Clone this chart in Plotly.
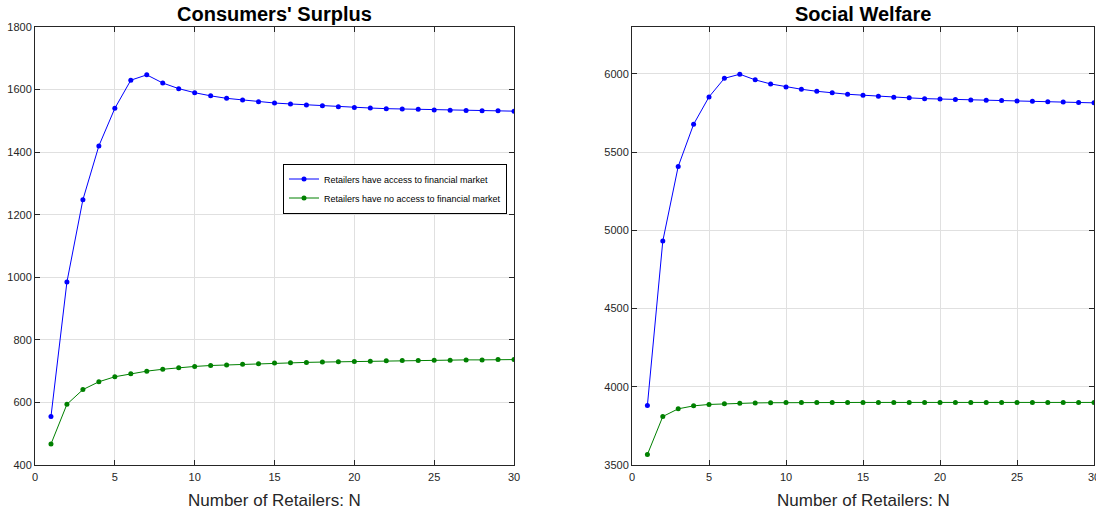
import plotly.graph_objects as go

N = list(range(1, 31))

cs_access = [555, 985, 1248, 1420, 1540, 1630, 1647, 1621, 1603, 1590, 1580, 1572, 1567, 1561, 1557,
             1554, 1551, 1548, 1545, 1543, 1541, 1539, 1538, 1537, 1535, 1534, 1533, 1532, 1532, 1531]
cs_noaccess = [467, 594, 641, 666, 682, 692, 700, 706, 711, 715, 718, 720, 722, 724, 726,
               727, 728, 729, 730, 731, 732, 733, 734, 734, 735, 735, 736, 736, 737, 737]
sw_access = [3881, 4932, 5408, 5678, 5853, 5972, 5998, 5962, 5936, 5917, 5902, 5889, 5879, 5870, 5864,
             5857, 5851, 5847, 5842, 5840, 5836, 5834, 5832, 5830, 5827, 5825, 5822, 5820, 5818, 5815]
sw_noaccess = [3567, 3810, 3859, 3878, 3887, 3891, 3895, 3897, 3898, 3899, 3899, 3900, 3900, 3900, 3900,
               3900, 3900, 3900, 3900, 3900, 3900, 3900, 3900, 3900, 3900, 3900, 3900, 3900, 3900, 3900]

legend_names = ["Retailers have access to financial market", "Retailers have no access to financial market"]
titles = ["Consumers' Surplus", "Social Welfare"]
xlabel = "Number of Retailers: N"

BLUE = "#0000ff"
GREEN = "#008000"
AX = "#262626"
GRID = "#e0e0e0"
FONT = "Liberation Sans, Arial"

fig = go.Figure()
fig.add_trace(go.Scatter(x=N, y=cs_access, mode="lines+markers", name=legend_names[0],
                         line=dict(color=BLUE, width=1), marker=dict(color=BLUE, size=5),
                         xaxis="x", yaxis="y"))
fig.add_trace(go.Scatter(x=N, y=cs_noaccess, mode="lines+markers", name=legend_names[1],
                         line=dict(color=GREEN, width=1), marker=dict(color=GREEN, size=5),
                         xaxis="x", yaxis="y"))
fig.add_trace(go.Scatter(x=N, y=sw_access, mode="lines+markers", showlegend=False,
                         line=dict(color=BLUE, width=1), marker=dict(color=BLUE, size=5),
                         xaxis="x2", yaxis="y2"))
fig.add_trace(go.Scatter(x=N, y=sw_noaccess, mode="lines+markers", showlegend=False,
                         line=dict(color=GREEN, width=1), marker=dict(color=GREEN, size=5),
                         xaxis="x2", yaxis="y2"))

# page body margin removed via post_script, so figure coords = screen coords
W, H = 1096, 515
L, T = 35, 27
R = W - 1094
B = H - T - 438
pw = W - L - R
ph = H - T - B
d1 = [0, (514 - L) / pw]
d2 = [(632 - L) / pw, 1]

common_x = dict(range=[0, 30], tick0=0, dtick=5, showgrid=True, gridcolor=GRID, gridwidth=1,
                showline=True, linecolor=AX, linewidth=1, mirror="ticks", ticks="inside",
                ticklen=5, tickcolor=AX, zeroline=False, automargin=False,
                ticklabeloverflow="allow", ticklabelstandoff=2,
                tickfont=dict(family=FONT, size=11, color=AX))
common_y = dict(showgrid=True, gridcolor=GRID, gridwidth=1,
                showline=True, linecolor=AX, linewidth=1, mirror="ticks", ticks="inside",
                ticklen=5, tickcolor=AX, zeroline=False, automargin=False,
                ticklabeloverflow="allow",
                tickfont=dict(family=FONT, size=11, color=AX))

fig.update_layout(
    width=W, height=H,
    margin=dict(l=L, r=R, t=T, b=B, autoexpand=False),
    paper_bgcolor="white", plot_bgcolor="white",
    xaxis=dict(domain=d1, anchor="y", **common_x),
    yaxis=dict(domain=[0, 1], anchor="x", range=[400, 1800], dtick=200, **common_y),
    xaxis2=dict(domain=d2, anchor="y2", **common_x),
    yaxis2=dict(domain=[0, 1], anchor="x2", range=[3500, 6300], tick0=3500, dtick=500, **common_y),
    legend=dict(x=(507 - L) / pw, y=1 - (188.5 - T) / ph, xanchor="right", yanchor="middle",
                bgcolor="white", bordercolor="#000000", borderwidth=1,
                font=dict(family=FONT, size=9, color="#000000"),
                tracegroupgap=0, itemwidth=30),
    showlegend=True,
)

for title, dom in zip(titles, [d1, d2]):
    cx = (dom[0] + dom[1]) / 2
    fig.add_annotation(text="<b>" + title + "</b>", x=cx, y=1, xref="paper", yref="paper",
                       xanchor="center", yanchor="bottom", yshift=0, showarrow=False,
                       font=dict(family=FONT, size=20, color="#000000"))
    fig.add_annotation(text=xlabel, x=cx, y=0, xref="paper", yref="paper",
                       xanchor="center", yanchor="top", yshift=-24, showarrow=False,
                       font=dict(family=FONT, size=17, color=AX))

fig.write_html("out.html", config={"displayModeBar": False},
               post_script="document.body.style.margin='0px';document.body.style.overflow='hidden';")
